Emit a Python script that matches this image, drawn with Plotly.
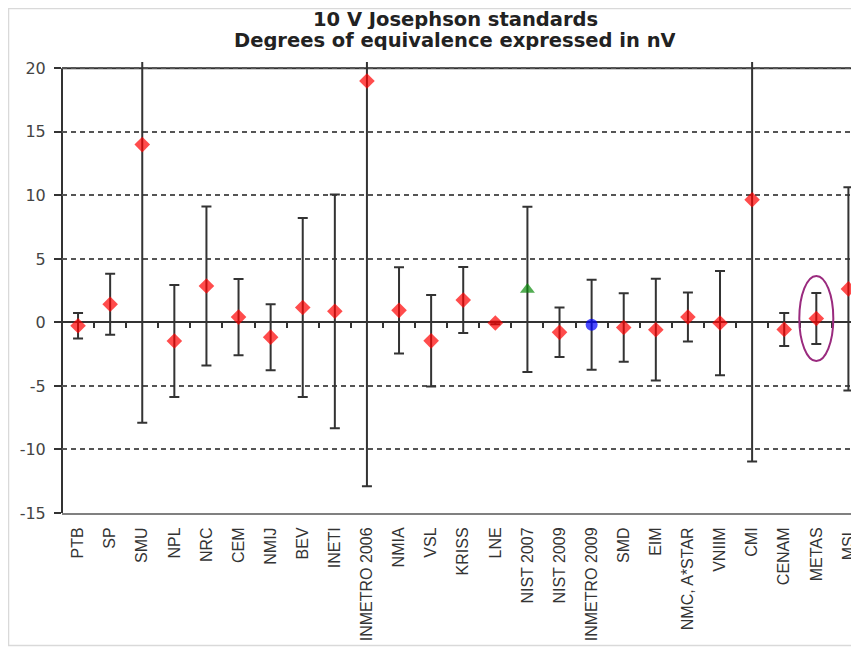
import plotly.graph_objects as go

labels = ["PTB", "SP", "SMU", "NPL", "NRC", "CEM", "NMIJ", "BEV", "INETI",
          "INMETRO 2006", "NMIA", "VSL", "KRISS", "LNE", "NIST 2007", "NIST 2009",
          "INMETRO 2009", "SMD", "EIM", "NMC, A*STAR", "VNIIM", "CMI", "CENAM",
          "METAS", "MSL"]
values = [-0.26, 1.43, 14.0, -1.46, 2.87, 0.42, -1.16, 1.18, 0.88,
          19.0, 0.95, -1.45, 1.76, -0.05, 2.6, -0.78,
          -0.18, -0.4, -0.57, 0.43, -0.05, 9.66, -0.55,
          0.31, 2.64]
uncert = [1.0, 2.4, 21.9, 4.4, 6.26, 3.0, 2.6, 7.05, 9.2,
          31.9, 3.4, 3.6, 2.6, 0.1, 6.5, 1.95,
          3.54, 2.7, 4.0, 1.93, 4.1, 20.6, 1.3,
          2.0, 8.0]
kind = ["d"] * len(labels)
kind[labels.index("NIST 2007")] = "t"
kind[labels.index("INMETRO 2009")] = "c"
yticks = [-15, -10, -5, 0, 5, 10, 15, 20]
ytext = ["-15", "-10", "-5", "0", "5", "10", "15", "20"]
highlight = "METAS"
title1 = "10 V Josephson standards"
title2 = "Degrees of equivalence expressed in nV"

sym_map = {"d": "diamond", "t": "triangle-up", "c": "circle"}
col_map = {"d": "#ff0000", "t": "#0a8a0a", "c": "#0000ff"}
size_map = {"d": 12, "t": 13, "c": 12}

idx = list(range(len(labels)))
xr = [-0.5, 24.33]
yr = [-15, 20.5]

fig = go.Figure()
fig.add_trace(go.Scatter(
    x=idx, y=values, mode="markers",
    marker=dict(symbol=[sym_map[k] for k in kind],
                color=[col_map[k] for k in kind],
                size=[size_map[k] for k in kind],
                line=dict(width=0)),
    error_y=dict(type="data", array=uncert, visible=True,
                 color="#333333", thickness=2, width=5),
    showlegend=False, hoverinfo="skip"))

# ticks on the zero line at category boundaries (overlay axis)
fig.add_trace(go.Scatter(x=[idx[0]], y=[values[0]], xaxis="x2", mode="markers",
                         marker=dict(opacity=0), showlegend=False, hoverinfo="skip"))

fig.update_layout(
    width=851, height=639,
    margin=dict(l=54, r=0, t=54, b=134, autoexpand=False),
    paper_bgcolor="white", plot_bgcolor="white",
    xaxis=dict(range=xr, tickmode="array", tickvals=idx, ticktext=labels,
               tickangle=-90, ticks="", showgrid=False, zeroline=False,
               showline=True, linecolor="#808080", linewidth=2, automargin=False,
               tickfont=dict(family="Liberation Sans", size=16, color="#333333"),
               ticklabelstandoff=6),
    xaxis2=dict(range=xr, overlaying="x", anchor="free", automargin=False,
                position=(0 - yr[0]) / (yr[1] - yr[0]),
                tickmode="array", tickvals=[i + 0.5 for i in idx[:-1]],
                ticks="outside", ticklen=5, tickwidth=2, tickcolor="#333333",
                showticklabels=False, showgrid=False, zeroline=False, showline=False),
    yaxis=dict(range=yr, tickmode="array", tickvals=yticks, ticktext=ytext,
               ticks="outside", ticklen=7, tickwidth=2, tickcolor="#333333",
               showgrid=True, gridcolor="#555555", gridwidth=2, griddash="5px,4px",
               zeroline=True, zerolinecolor="#333333", zerolinewidth=2,
               showline=False, automargin=False, ticklabelstandoff=5,
               tickfont=dict(family="DejaVu Sans", size=16, color="#444444")),
)

# solid reference lines: top (20) and left axis
fig.add_shape(type="line", xref="paper", yref="y", x0=0, x1=1, y0=20, y1=20,
              line=dict(color="#333333", width=2), layer="between")
fig.add_shape(type="line", xref="paper", yref="y", x0=0, x1=0, y0=-15, y1=20,
              line=dict(color="#333333", width=2), layer="between")

# ellipse around highlighted lab
hi = labels.index(highlight)
fig.add_shape(type="circle", xref="x", yref="y",
              x0=hi - 0.53, x1=hi + 0.53,
              y0=values[hi] - 3.35, y1=values[hi] + 3.35,
              line=dict(color="#9a2a7e", width=2))

# light frame around picture
fig.add_shape(type="rect", xref="paper", yref="paper",
              x0=-0.0671, x1=1.03, y0=-0.2938, y1=1.1186,
              line=dict(color="#d9d9d9", width=1.5), layer="below")

fig.add_annotation(text="<b>" + title1 + "</b>", xref="paper", yref="paper",
                   x=0.4931, y=1.0962, showarrow=False, xanchor="center", yanchor="middle",
                   height=20, valign="middle",
                   font=dict(family="DejaVu Sans", size=19.5, color="#222222"))
fig.add_annotation(text="<b>" + title2 + "</b>", xref="paper", yref="paper",
                   x=0.4931, y=1.0488, showarrow=False, xanchor="center", yanchor="middle",
                   height=20, valign="middle",
                   font=dict(family="DejaVu Sans", size=19.5, color="#222222"))

fig.write_html("out.html")
